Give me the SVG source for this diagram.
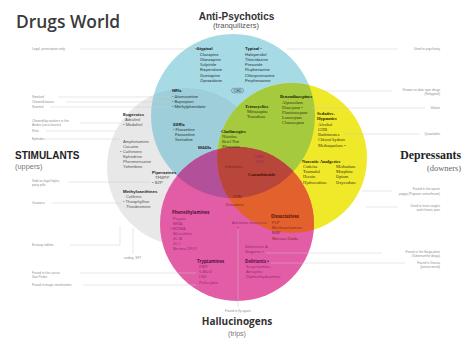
<svg xmlns="http://www.w3.org/2000/svg" width="469" height="342" viewBox="0 0 469 342">
<style>
.ap{font-family:Roboto,"Liberation Sans",sans-serif;font-size:4.2px;fill:#2f3b3f}
.aph{font-family:Roboto,"Liberation Sans",sans-serif;font-size:4.4px;font-weight:bold;fill:#1e2a2e}
.st{font-family:"Liberation Sans",Arial,sans-serif;font-size:4.2px;fill:#555}
.sth{font-family:"Liberation Sans",Arial,sans-serif;font-size:4.4px;font-weight:bold;fill:#222}
.de{font-family:"Liberation Serif","Times New Roman",serif;font-size:4.4px;fill:#3a3410}
.deh{font-family:"Liberation Serif","Times New Roman",serif;font-size:4.6px;font-weight:bold;fill:#1e1a00}
.ha{font-family:"Open Sans","Liberation Sans",sans-serif;font-size:4.1px;fill:#8e2566}
.hah{font-family:"Open Sans","Liberation Sans",sans-serif;font-size:4.3px;font-weight:bold;fill:#55103a}
.or{font-family:"Open Sans","Liberation Sans",sans-serif;font-size:4.1px;fill:#7a2410}
.orh{font-family:"Open Sans","Liberation Sans",sans-serif;font-size:4.3px;font-weight:bold;fill:#5a1206}
.n{font-family:"Liberation Sans",Arial,sans-serif;font-size:3.2px;fill:#8f8f8f}
.nr{font-family:"Liberation Sans",Arial,sans-serif;font-size:3.2px;fill:#8f8f8f;text-anchor:end}
.c line,.c polyline{stroke:#cccccc;stroke-width:0.45;fill:none}
</style>
<defs>
<clipPath id="cpB"><circle cx="233" cy="116" r="82"/></clipPath>
<clipPath id="cpY"><circle cx="292" cy="158" r="75"/></clipPath>
<clipPath id="cpP"><circle cx="237" cy="224" r="77"/></clipPath>
</defs>
<rect width="469" height="342" fill="#fff"/>
<g id="circles">
<circle cx="186" cy="167" r="79" fill="#e8e8e8"/>
<circle cx="233" cy="116" r="82" fill="#a6dae5"/>
<circle cx="186" cy="167" r="79" fill="#000" fill-opacity="0.05" clip-path="url(#cpB)"/>
<circle cx="292" cy="158" r="75" fill="#efe92a"/>
<circle cx="237" cy="224" r="77" fill="#e35ca6"/>
<circle cx="292" cy="158" r="75" fill="#a5ca3e" clip-path="url(#cpB)"/>
<circle cx="237" cy="224" r="77" fill="#b2519a" clip-path="url(#cpB)"/>
<circle cx="237" cy="224" r="77" fill="#e2612d" clip-path="url(#cpY)"/>
<g clip-path="url(#cpB)"><circle cx="237" cy="224" r="77" fill="#b9463a" clip-path="url(#cpY)"/></g>
</g>
<text x="16" y="27.5" font-family="'Open Sans','Liberation Sans',sans-serif" font-size="17.4" font-weight="600" fill="#3a3a3a">Drugs World</text>
<g id="connectors" class="c">
<line x1="80" y1="49" x2="193" y2="49"/>
<line x1="58" y1="97" x2="170" y2="97"/>
<line x1="66" y1="102" x2="170" y2="102"/>
<line x1="50" y1="107" x2="170" y2="107"/>
<line x1="80" y1="123" x2="120" y2="123"/>
<line x1="46" y1="131" x2="116" y2="131"/>
<line x1="44" y1="139" x2="120" y2="139"/>
<line x1="68" y1="182" x2="150" y2="182"/>
<line x1="52" y1="203" x2="121" y2="203"/>
<polyline points="70,245 120,245 120,226"/>
<line x1="133" y1="228" x2="133" y2="254"/>
<line x1="80" y1="273" x2="196" y2="273"/>
<line x1="83" y1="285" x2="196" y2="285"/>
<line x1="287" y1="49" x2="398" y2="49"/>
<line x1="322" y1="91" x2="392" y2="91"/>
<line x1="312" y1="108" x2="425" y2="108"/>
<line x1="345" y1="134" x2="420" y2="134"/>
<line x1="362" y1="191" x2="392" y2="191"/>
<line x1="366" y1="207" x2="398" y2="207"/>
<line x1="266" y1="253" x2="382" y2="253"/>
<line x1="271" y1="263" x2="405" y2="263"/>
<line x1="238" y1="229" x2="238" y2="307"/>
</g>
<g id="anti-psychotics">
<text x="236.5" y="19.5" text-anchor="middle" font-family="'Liberation Sans',Arial,sans-serif" font-size="10" font-weight="bold" fill="#333">Anti-Psychotics</text>
<text x="236" y="28" text-anchor="middle" font-family="'Liberation Sans',Arial,sans-serif" font-size="7.6" fill="#555">(tranquilizers)</text>
<text class="aph" x="195" y="49.5">•Atypical</text>
<text class="ap" x="200" y="55.5">Clozapine</text>
<text class="ap" x="200" y="60.8">Olanzapine</text>
<text class="ap" x="200" y="66.1">Sulpiride</text>
<text class="ap" x="200" y="71.4">Risperidone</text>
<text class="ap" x="200" y="76.7">Quetiapine</text>
<text class="ap" x="200" y="82">Ziprasidone</text>
<text class="aph" x="245" y="49.5">Typical •</text>
<text class="ap" x="245" y="55.5">Haloperidol</text>
<text class="ap" x="245" y="60.8">Thioridazine</text>
<text class="ap" x="245" y="66.1">Pimozide</text>
<text class="ap" x="245" y="71.4">Fluphenazine</text>
<text class="ap" x="245" y="76.7">Chlorpromazine</text>
<text class="ap" x="245" y="82">Perphenazine</text>
<rect x="231.5" y="88.3" width="12" height="4.6" rx="2.3" fill="none" stroke="#3a4a4e" stroke-width="0.4"/>
<text class="ap" x="237.5" y="91.9" text-anchor="middle" font-size="3.4">CBD</text>
<text class="aph" x="172" y="92">NRIs</text>
<text class="ap" x="172" y="97.5">• Atomoxetine</text>
<text class="ap" x="172" y="102.5">• Bupropion</text>
<text class="ap" x="172" y="107.5">• Methylphenidate</text>
<text class="aph" x="173" y="126">SSRIs</text>
<text class="ap" x="173" y="131">• Fluoxetine</text>
<text class="ap" x="175" y="136">Paroxetine</text>
<text class="ap" x="175" y="141">Sertraline</text>
<text class="aph" x="198" y="149">MAOIs</text>
</g>
<g id="stimulants">
<text x="15" y="158.5" font-family="'Liberation Sans',Arial,sans-serif" font-size="10" font-weight="bold" fill="#222">STIMULANTS</text>
<text x="15" y="169" font-family="'Liberation Sans',Arial,sans-serif" font-size="7.4" fill="#777">(uppers)</text>
<text class="sth" x="123" y="115.5">Eugeroics</text>
<text class="st" x="125" y="120.5">Adrafinil</text>
<text class="st" x="123" y="125.5">• Modafinil</text>
<text class="st" x="123" y="142.5">Amphetamine</text>
<text class="st" x="123" y="147.5">Cocaine</text>
<text class="st" x="120" y="152.5">• Cathinone</text>
<text class="st" x="123" y="157.5">Ephedrine</text>
<text class="st" x="123" y="162.5">Phenmetrazine</text>
<text class="st" x="123" y="167.5">Yohimbine</text>
<text class="sth" x="152" y="173.5">Piperazines</text>
<text class="st" x="155" y="178.5">TFMPP</text>
<text class="st" x="152" y="183.5">• BZP</text>
<text class="sth" x="123" y="192.5">Methylxanthines</text>
<text class="st" x="126" y="197.5">Caffeine</text>
<text class="st" x="123" y="202.5">• Theophylline</text>
<text class="st" x="126" y="207.5">Theobromine</text>
</g>
<g id="depressants">
<text x="461" y="159" text-anchor="end" font-family="'Liberation Serif','Times New Roman',serif" font-size="11.8" font-weight="bold" fill="#222">Depressants</text>
<text x="461" y="170.5" text-anchor="end" font-family="'Liberation Serif','Times New Roman',serif" font-size="8.4" fill="#666">(downers)</text>
<text class="deh" x="245" y="107.5">Tetracyclics</text>
<text class="de" x="247" y="112.5">Mirtazapine</text>
<text class="de" x="247" y="117.5">Trazodone</text>
<text class="deh" x="280" y="98">Benzodiazepines</text>
<text class="de" x="282" y="103.5">Alprazolam</text>
<text class="de" x="282" y="108.5">Diazepam •</text>
<text class="de" x="282" y="113.5">Flunitrazepam</text>
<text class="de" x="282" y="118.5">Lorazepam</text>
<text class="de" x="282" y="123.5">Clonazepam</text>
<text class="deh" x="317" y="115">Sedative-</text>
<text class="deh" x="317" y="120">Hypnotics</text>
<text class="de" x="318" y="126">Alcohol</text>
<text class="de" x="318" y="131">GHB</text>
<text class="de" x="318" y="136">Barbiturates</text>
<text class="de" x="318" y="141">Chloral hydrate</text>
<text class="de" x="318" y="146.5">Methaqualone •</text>
<text class="deh" x="302" y="162.5">Narcotic Analgesics</text>
<text class="de" x="303" y="168">Codeine</text>
<text class="de" x="303" y="173">Tramadol</text>
<text class="de" x="303" y="178">Heroin</text>
<text class="de" x="303" y="183.5">Hydrocodone</text>
<text class="de" x="336" y="168">Methadone</text>
<text class="de" x="336" y="173">Morphine</text>
<text class="de" x="336" y="178">Opium</text>
<text class="de" x="336" y="183.5">Oxycodone</text>
<text class="deh" x="221" y="133">Cholinergics</text>
<text class="de" x="222" y="138">Nicotine</text>
<text class="de" x="222" y="143">Betel Nut</text>
<text class="de" x="222" y="148">Muscarine</text>
</g>
<g id="center">
<text class="or" x="225" y="168" fill="#6a1a10">Inhalants</text>
<text class="ha" x="255" y="157.5" fill="#c0207a" font-size="3.4">CBN</text>
<text class="ha" x="256" y="162.5" fill="#c0207a">THC</text>
<text x="248" y="176" font-family="'Liberation Serif',serif" font-size="4.6" font-weight="bold" fill="#4a0f08">Cannabinoids</text>
<text class="or" x="233" y="197.5">DXM</text>
<text class="or" x="226" y="206">Ketamine</text>
</g>
<g id="hallucinogens">
<text x="237" y="325" text-anchor="middle" font-family="'Open Sans','Liberation Sans',sans-serif" font-size="10" font-weight="bold" fill="#333">Hallucinogens</text>
<text x="237" y="335.5" text-anchor="middle" font-family="'Liberation Sans',Arial,sans-serif" font-size="7" fill="#777">(trips)</text>
<text class="hah" x="172" y="214">Phenethylamines</text>
<text class="ha" x="173" y="219.5">Peyote</text>
<text class="ha" x="173" y="224.5">MDA</text>
<text class="ha" x="170" y="229.5">• MDMA</text>
<text class="ha" x="173" y="234.5">Mescaline</text>
<text class="ha" x="173" y="239.5">2C-B</text>
<text class="ha" x="173" y="244.5">2C-I</text>
<text class="ha" x="173" y="250">Bromo-DFLY</text>
<text class="ha" x="232" y="223.5" fill="#8a2d8a">Amanita muscaria</text>
<text class="ha" x="237" y="228.5" fill="#8a2d8a">•</text>
<text class="orh" x="271" y="218">Dissociatives</text>
<text class="or" x="272" y="223.5">PCP</text>
<text class="or" x="272" y="228.5">Methoxetamine</text>
<text class="or" x="272" y="233.5">MXE</text>
<text class="or" x="272" y="240">Nitrous Oxide</text>
<text class="ha" x="245" y="247.5">Salvinorin A</text>
<text class="ha" x="245" y="252.5">Ibogaine •</text>
<text class="hah" x="197" y="263">Tryptamines</text>
<text class="ha" x="199" y="268">DMT</text>
<text class="ha" x="199" y="273">5-MeO</text>
<text class="ha" x="199" y="278">LSD</text>
<text class="ha" x="199" y="284">Psilocybin</text>
<text class="hah" x="245" y="263">Deliriants •</text>
<text class="ha" x="246" y="268">Scopolamine</text>
<text class="ha" x="246" y="273">Atropine</text>
<text class="ha" x="246" y="278">Diphenhydramine</text>
</g>
<g id="notes">
<text class="n" x="32" y="50">Legal, prescription only</text>
<text class="n" x="32" y="98">Smoked</text>
<text class="n" x="32" y="103">Chewed leaves</text>
<text class="n" x="32" y="108">Snorted</text>
<text class="n" x="32" y="122">Chewed by workers in the</text>
<text class="n" x="32" y="126">Andes (coca leaves)</text>
<text class="n" x="32" y="132">Khat</text>
<text class="n" x="32" y="140">Ephedra</text>
<text class="n" x="32" y="182">Sold as legal highs,</text>
<text class="n" x="32" y="186">party pills</text>
<text class="n" x="32" y="204">Guarana</text>
<text class="n" x="32" y="246">Ecstasy tablets</text>
<text class="n" x="124" y="259">ending, SFT</text>
<text class="n" x="32" y="274">Found in the cactus</text>
<text class="n" x="32" y="278">San Pedro</text>
<text class="n" x="32" y="286">Found in magic mushrooms</text>
<text class="nr" x="440" y="50">Used in psychiatry</text>
<text class="nr" x="440" y="91">Known as date rape drugs</text>
<text class="nr" x="440" y="95">(Rohypnol)</text>
<text class="nr" x="440" y="109">Valium</text>
<text class="nr" x="440" y="135">Quaaludes</text>
<text class="nr" x="440" y="190">Found in the opium</text>
<text class="nr" x="440" y="194.5">poppy (Papaver somniferum)</text>
<text class="nr" x="440" y="207">Used to treat coughs</text>
<text class="nr" x="440" y="211">and chronic pain</text>
<text class="nr" x="440" y="253">Found in the Iboga plant</text>
<text class="nr" x="440" y="257">(Tabernanthe iboga)</text>
<text class="nr" x="440" y="263.5">Found in Datura</text>
<text class="nr" x="440" y="267.5">(jimson weed)</text>
<text class="n" x="238" y="312" text-anchor="middle">Found in fly agaric</text>
</g>
</svg>
